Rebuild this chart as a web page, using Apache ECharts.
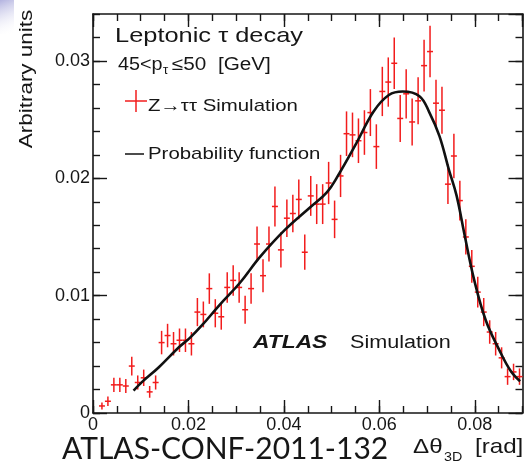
<!DOCTYPE html>
<html>
<head>
<meta charset="utf-8">
<script src="https://cdn.jsdelivr.net/npm/echarts@6/dist/echarts.min.js"></script>
<style>
  html, body { margin: 0; padding: 0; background: #fff; }
  #chart { width: 525px; height: 466px; }
</style>
</head>
<body>
<div id="chart"></div>
<script>
// ---------- data ----------
const binHalfWidth = 0.000625;
const binCenters = [
  0.001875, 0.003125, 0.004375, 0.005625, 0.006875, 0.008125, 0.009375, 0.010625, 0.011875, 0.013125,
  0.014375, 0.015625, 0.016875, 0.018125, 0.019375, 0.020625, 0.021875, 0.023125, 0.024375, 0.025625,
  0.026875, 0.028125, 0.029375, 0.030625, 0.031875, 0.033125, 0.034375, 0.035625, 0.036875, 0.038125,
  0.039375, 0.040625, 0.041875, 0.043125, 0.044375, 0.045625, 0.046875, 0.048125, 0.049375, 0.050625,
  0.051875, 0.053125, 0.054375, 0.055625, 0.056875, 0.058125, 0.059375, 0.060625, 0.061875, 0.063125,
  0.064375, 0.065625, 0.066875, 0.068125, 0.069375, 0.070625, 0.071875, 0.073125, 0.074375, 0.075625,
  0.076875, 0.078125, 0.079375, 0.080625, 0.081875, 0.083125, 0.084375, 0.085625, 0.086875, 0.088125,
  0.089375
];
const simValues = [
  0.0006, 0.0010, 0.0024, 0.0024, 0.0023, 0.0040, 0.0026, 0.0030, 0.0018, 0.0026,
  0.0060, 0.0066, 0.0059, 0.0062, 0.0062, 0.0059, 0.0086, 0.0084, 0.0106, 0.0085,
  0.0082, 0.0107, 0.0113, 0.0107, 0.0088, 0.0106, 0.0144, 0.0117, 0.0144, 0.0176,
  0.0139, 0.0166, 0.0170, 0.0182, 0.0137, 0.0185, 0.0178, 0.0178, 0.0196, 0.0165,
  0.0202, 0.0238, 0.0237, 0.0232, 0.0239, 0.0256, 0.0227, 0.0274, 0.0282, 0.0298,
  0.0251, 0.0272, 0.0248, 0.0266, 0.0296, 0.0308, 0.0264, 0.0258, 0.0195, 0.0219,
  0.0181, 0.0150, 0.0125, 0.0103, 0.0086, 0.0069, 0.0059, 0.0047, 0.0031, 0.0035,
  0.0031
];
const simErrors = [
  0.0003, 0.0004, 0.0006, 0.0006, 0.0006, 0.0008, 0.0006, 0.0007, 0.0005, 0.0006,
  0.0010, 0.0010, 0.0010, 0.0010, 0.0010, 0.0010, 0.0012, 0.0011, 0.0013, 0.0012,
  0.0011, 0.0013, 0.0013, 0.0013, 0.0012, 0.0013, 0.0015, 0.0014, 0.0015, 0.0017,
  0.0015, 0.0016, 0.0016, 0.0017, 0.0015, 0.0017, 0.0017, 0.0017, 0.0018, 0.0016,
  0.0018, 0.0019, 0.0019, 0.0019, 0.0019, 0.0020, 0.0019, 0.0021, 0.0021, 0.0022,
  0.0020, 0.0021, 0.0020, 0.0020, 0.0022, 0.0022, 0.0020, 0.0020, 0.0017, 0.0019,
  0.0017, 0.0015, 0.0014, 0.0013, 0.0012, 0.0010, 0.0010, 0.0009, 0.0007, 0.0007,
  0.0007
];
const curveX = [
  0.0085, 0.0103, 0.0138, 0.0180, 0.0203, 0.0229, 0.0265, 0.0308, 0.0350, 0.0402,
  0.0457, 0.0490, 0.0513, 0.0552, 0.0588, 0.0620, 0.0649, 0.0684, 0.0705, 0.0726,
  0.0746, 0.0762, 0.0778, 0.0799, 0.0823, 0.0851, 0.0875, 0.0895
];
const curveY = [
  0.0019, 0.00265, 0.0039, 0.0056, 0.0064, 0.0075, 0.0092, 0.0111, 0.0133, 0.0156,
  0.0176, 0.0188, 0.0202, 0.0230, 0.0257, 0.0271, 0.0274, 0.0270, 0.0256, 0.0236,
  0.0207, 0.0185, 0.0153, 0.0113, 0.0079, 0.0054, 0.0036, 0.0027
];
const xRange = [0, 0.09];
const yRange = [0, 0.034];
const xMajorStep = 0.02, xMinorStep = 0.005;
const yMajorStep = 0.01, yMinorStep = 0.002;

// ---------- chart ----------
const FONT = '"Liberation Sans", Arial, Helvetica, sans-serif';
const INK = '#161616';
const RED = '#f21c1c';
const chart = echarts.init(document.getElementById('chart'), null, { renderer: 'canvas' });

function fmt(v) { return v === 0 ? '0' : v.toFixed(2); }

const gridRect = { left: 93, right: 2.5, top: 14, bottom: 53, containLabel: false };

function makeX(gridIndex, position, major, labels) {
  return {
    gridIndex: gridIndex, type: 'value', min: xRange[0], max: xRange[1], position: position,
    interval: major ? xMajorStep : xMinorStep,
    axisLine: { show: major, onZero: false, lineStyle: { color: INK, width: 1.6 } },
    axisTick: { show: true, inside: true, length: major ? 13 : 7, lineStyle: { color: INK, width: 1.4 } },
    axisLabel: { show: labels, showMaxLabel: false, margin: 3, color: INK, fontFamily: FONT, fontSize: 18, formatter: fmt },
    splitLine: { show: false }
  };
}
function makeY(gridIndex, position, major, labels) {
  return {
    gridIndex: gridIndex, type: 'value', min: yRange[0], max: yRange[1], position: position,
    interval: major ? yMajorStep : yMinorStep,
    axisLine: { show: major, onZero: false, lineStyle: { color: INK, width: 1.6 } },
    axisTick: { show: true, inside: true, length: major ? 14 : 7, lineStyle: { color: INK, width: 1.4 } },
    axisLabel: { show: labels, showMaxLabel: false, margin: 3, color: INK, fontFamily: FONT, fontSize: 18, formatter: fmt },
    splitLine: { show: false }
  };
}

const errData = binCenters.map((x, i) => [x, simValues[i], simErrors[i]]);
const curveData = curveX.map((x, i) => [x, curveY[i]]);

function txt(x, y, text, size, sx, extra) {
  return {
    type: 'text', x: x, y: y, scaleX: sx || 1, silent: true,
    style: Object.assign({ text: text, fill: INK, fontFamily: FONT, fontSize: size, verticalAlign: 'middle', align: 'left' }, extra || {})
  };
}

const option = {
  animation: false,
  backgroundColor: '#ffffff',
  grid: [ Object.assign({}, gridRect), Object.assign({}, gridRect), Object.assign({}, gridRect), Object.assign({}, gridRect) ],
  xAxis: [ makeX(0, 'bottom', true, true), makeX(1, 'bottom', false, false), makeX(2, 'top', true, false), makeX(3, 'top', false, false) ],
  yAxis: [ makeY(0, 'left', true, true), makeY(1, 'left', false, false), makeY(2, 'right', true, false), makeY(3, 'right', false, false) ],
  series: [
    {
      type: 'custom', xAxisIndex: 0, yAxisIndex: 0, data: errData, z: 3,
      renderItem: function (params, api) {
        const x = api.value(0), y = api.value(1), e = api.value(2);
        const c = api.coord([x, y]);
        const lo = api.coord([x, y - e]);
        const hi = api.coord([x, y + e]);
        const l = api.coord([x - binHalfWidth, y]);
        const r = api.coord([x + binHalfWidth, y]);
        const st = { stroke: RED, lineWidth: 1.5 };
        return { type: 'group', children: [
          { type: 'line', shape: { x1: c[0], y1: lo[1], x2: c[0], y2: hi[1] }, style: st },
          { type: 'line', shape: { x1: l[0], y1: c[1], x2: r[0], y2: c[1] }, style: st }
        ] };
      }
    },
    {
      type: 'line', xAxisIndex: 0, yAxisIndex: 0, data: curveData, smooth: 0.4,
      showSymbol: false, z: 4,
      lineStyle: { color: '#111', width: 2.6 }
    }
  ],
  graphic: [
    { type: 'rect', shape: { x: 0, y: 0, width: 14, height: 34 }, silent: true,
      style: { fill: new echarts.graphic.LinearGradient(0, 0, 1, 1, [
        { offset: 0, color: 'rgba(170,170,220,0.9)' }, { offset: 1, color: 'rgba(255,255,255,0)' }]) } },
    { type: 'text', x: 27, y: 79, rotation: Math.PI / 2, scaleX: 1.18, silent: true,
      style: { text: 'Arbitrary units', fill: INK, fontFamily: FONT, fontSize: 19, align: 'center', verticalAlign: 'middle' } },
    txt(115, 36, 'Leptonic τ decay', 21, 1.21),
    txt(118, 65, '45<p', 18, 1.1),
    txt(163, 71, 'τ', 12, 1.1),
    txt(172, 65, '≤50  [GeV]', 18, 1.15),
    { type: 'line', shape: { x1: 125, y1: 101, x2: 147, y2: 101 }, silent: true, style: { stroke: RED, lineWidth: 1.5 } },
    { type: 'line', shape: { x1: 136, y1: 90, x2: 136, y2: 112 }, silent: true, style: { stroke: RED, lineWidth: 1.5 } },
    txt(148, 106, 'Z→ττ Simulation', 17, 1.2),
    { type: 'line', shape: { x1: 125, y1: 154, x2: 144, y2: 154 }, silent: true, style: { stroke: '#111', lineWidth: 1.5 } },
    txt(148, 154, 'Probability function', 17, 1.2),
    txt(253, 343, 'ATLAS', 19, 1.2, { fontWeight: 'bold', fontStyle: 'italic' }),
    txt(350, 343, 'Simulation', 18, 1.2),
    txt(62, 449, 'ATLAS-CONF-2011-132', 30, 1.0, { fontFamily: 'Lato, "Open Sans", sans-serif' }),
    txt(413, 447, 'Δθ', 21, 1.15),
    txt(444, 457, '3D', 13, 1.1),
    txt(475, 447, '[rad]', 21, 1.15)
  ]
};
chart.setOption(option);
</script>
</body>
</html>
